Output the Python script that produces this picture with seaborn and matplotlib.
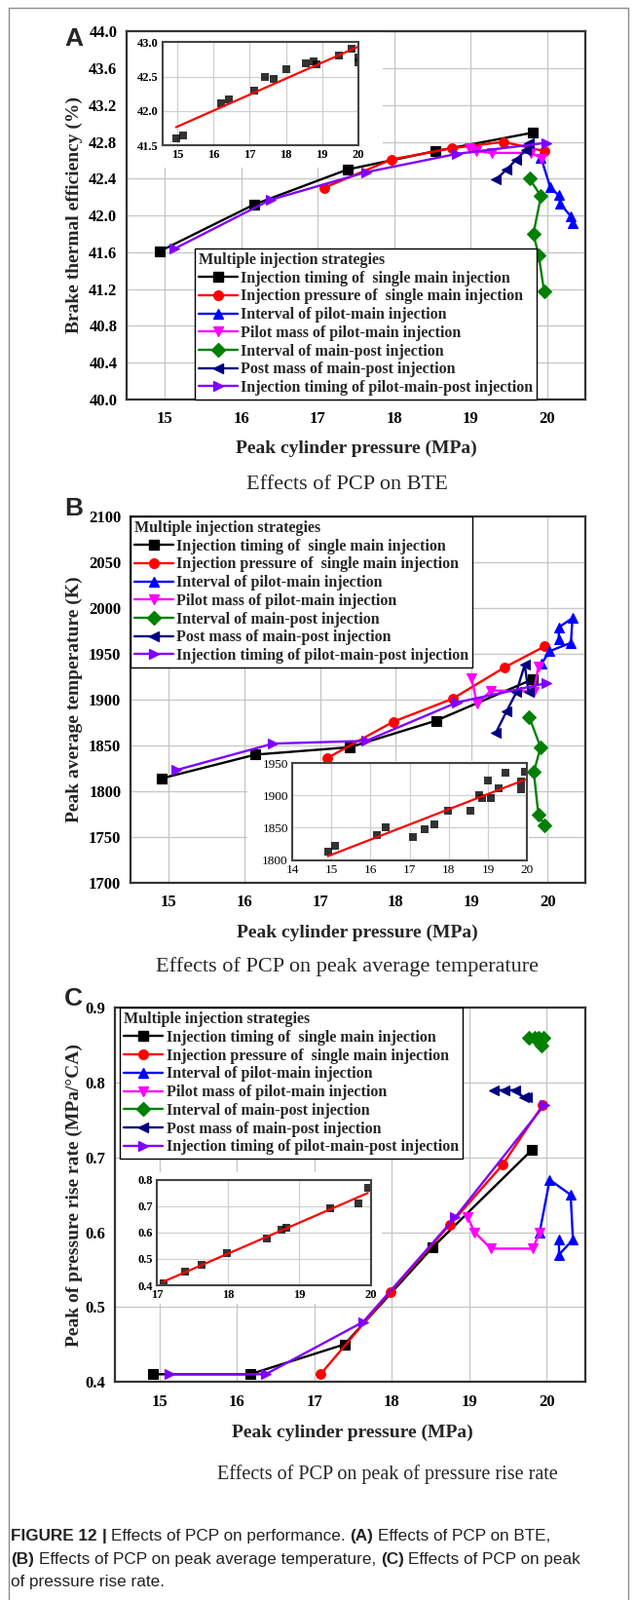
import numpy as np
import pandas as pd
import matplotlib
matplotlib.use("Agg")
import matplotlib.pyplot as plt
from matplotlib.lines import Line2D
from matplotlib.patches import Rectangle
import seaborn as sns

# ---------------- data ----------------
strategy_labels = [
    "Injection timing of  single main injection",
    "Injection pressure of  single main injection",
    "Interval of pilot-main injection",
    "Pilot mass of pilot-main injection",
    "Interval of main-post injection",
    "Post mass of main-post injection",
    "Injection timing of pilot-main-post injection",
]

# Panel A: brake thermal efficiency (%)
a_timing_x = [14.93, 16.17, 17.39, 18.54, 19.81]
a_timing_y = [41.61, 42.12, 42.50, 42.70, 42.90]
a_press_x = [17.08, 17.97, 18.75, 19.43, 19.96]
a_press_y = [42.30, 42.61, 42.73, 42.80, 42.70]
a_pmint_x = [19.92, 20.04, 20.15, 20.17, 20.31, 20.34]
a_pmint_y = [42.63, 42.31, 42.22, 42.13, 41.99, 41.92]
a_pmass_x = [18.99, 19.07, 19.28, 19.79, 19.93]
a_pmass_y = [42.73, 42.70, 42.68, 42.68, 42.62]
a_mpint_x = [19.77, 19.92, 19.82, 19.89, 19.96]
a_mpint_y = [42.40, 42.21, 41.80, 41.57, 41.18]
a_postm_x = [19.33, 19.47, 19.60, 19.72, 19.76]
a_postm_y = [42.39, 42.50, 42.61, 42.71, 42.79]
a_pmp_x = [15.13, 16.38, 17.63, 18.82, 19.99]
a_pmp_y = [41.64, 42.17, 42.47, 42.67, 42.79]

a_inset_x = [14.97, 15.16, 16.21, 16.42, 17.12, 17.43, 17.66, 18.00, 18.56,
             18.77, 18.85, 19.45, 19.82, 20.00, 20.00]
a_inset_y = [41.60, 41.64, 42.11, 42.17, 42.30, 42.50, 42.47, 42.61, 42.70,
             42.72, 42.68, 42.80, 42.91, 42.78, 42.71]

# Panel B: peak average temperature (K)
b_timing_x = [14.91, 16.15, 17.39, 18.53, 19.80]
b_timing_y = [1814, 1840, 1848, 1877, 1922]
b_press_x = [17.09, 17.97, 18.75, 19.43, 19.96]
b_press_y = [1836, 1876, 1901, 1935, 1958]
b_pmint_x = [19.92, 20.03, 20.31, 20.33, 20.15, 20.15]
b_pmint_y = [1939, 1953, 1962, 1989, 1979, 1966]
b_pmass_x = [19.00, 19.07, 19.26, 19.82, 19.88]
b_pmass_y = [1923, 1896, 1910, 1909, 1936]
b_mpint_x = [19.76, 19.91, 19.82, 19.88, 19.96]
b_mpint_y = [1881, 1848, 1821, 1775, 1763]
b_postm_x = [19.32, 19.46, 19.59, 19.70, 19.75]
b_postm_y = [1864, 1887, 1908, 1938, 1909]
b_pmp_x = [15.10, 16.38, 17.61, 18.81, 19.99]
b_pmp_y = [1823, 1852, 1855, 1897, 1918]

b_inset_x = [14.91, 15.10, 16.15, 16.39, 17.08, 17.39, 17.63, 17.98, 18.55,
             18.77, 18.84, 18.99, 19.08, 19.28, 19.44, 19.84, 19.84, 19.95]
b_inset_y = [1813, 1822, 1839, 1850, 1835, 1848, 1855, 1876, 1877,
             1901, 1896, 1923, 1896, 1911, 1935, 1921, 1910, 1936]

# Panel C: peak of pressure rise rate (MPa/°CA)
c_timing_x = [14.92, 16.17, 17.39, 18.53, 19.81]
c_timing_y = [0.41, 0.41, 0.45, 0.58, 0.71]
c_press_x = [17.08, 17.98, 18.75, 19.43, 19.95]
c_press_y = [0.41, 0.52, 0.61, 0.69, 0.77]
c_pmint_x = [19.91, 20.04, 20.31, 20.34, 20.16, 20.16]
c_pmint_y = [0.60, 0.67, 0.65, 0.59, 0.57, 0.59]
c_pmass_x = [18.98, 19.07, 19.28, 19.82, 19.91]
c_pmass_y = [0.62, 0.60, 0.578, 0.578, 0.60]
c_mpint_x = [19.77, 19.84, 19.90, 19.93, 19.96]
c_mpint_y = [0.86, 0.86, 0.86, 0.85, 0.86]
c_postm_x = [19.32, 19.45, 19.59, 19.71, 19.74]
c_postm_y = [0.79, 0.79, 0.79, 0.78, 0.78]
c_pmp_x = [15.13, 16.37, 17.63, 18.82, 19.97]
c_pmp_y = [0.41, 0.41, 0.48, 0.62, 0.77]

c_inset_x = [17.09, 17.40, 17.63, 17.98, 18.54, 18.75, 18.82, 19.43, 19.83, 19.96]
c_inset_y = [0.409, 0.451, 0.479, 0.521, 0.579, 0.610, 0.618, 0.690, 0.709, 0.770]

x_ticks = [15, 16, 17, 18, 19, 20]
a_yticks = [40.0, 40.4, 40.8, 41.2, 41.6, 42.0, 42.4, 42.8, 43.2, 43.6, 44.0]
b_yticks = [1700, 1750, 1800, 1850, 1900, 1950, 2000, 2050, 2100]
c_yticks = [0.4, 0.5, 0.6, 0.7, 0.8, 0.9]
a_inset_xticks = [15, 16, 17, 18, 19, 20]
a_inset_yticks = [41.5, 42.0, 42.5, 43.0]
b_inset_xticks = [14, 15, 16, 17, 18, 19, 20]
b_inset_yticks = [1800, 1850, 1900, 1950]
c_inset_xticks = [17, 18, 19, 20]
c_inset_yticks = [0.4, 0.5, 0.6, 0.7, 0.8]

# ---------------- styles ----------------
COLORS = ['#000000', '#ff0000', '#0000ff', '#ff00ff', '#008000', '#000080', '#8000ff']
MARKERS = ['s', 'o', '^', 'v', 'D', '<', '>']
SERIF = 'Liberation Serif'
SANS = 'Liberation Sans'

W, H = 652, 1642
sns.set_style("whitegrid")
plt.rcParams['font.family'] = [SERIF, 'DejaVu Serif']
fig = plt.figure(figsize=(W / 100, H / 100), dpi=100)
fig.patch.set_facecolor('white')


def rect(l, t, r, b):
    return [l / W, 1 - b / H, (r - l) / W, (b - t) / H]


def fy(py):
    return 1 - py / H


def style_axes(ax, lw=1.6, col='#333333'):
    for s in ax.spines.values():
        s.set_visible(True)
        s.set_color(col)
        s.set_linewidth(lw)


def main_panel(box, series, xlim, ylim, yticks, yfmt, patch_px, leg_loc, leg_anchor):
    ax = fig.add_axes(rect(*box))
    ax.set_facecolor('white')
    for (xs, ys), c, m, lab in zip(series, COLORS, MARKERS, strategy_labels):
        sns.lineplot(x=xs, y=ys, sort=False, estimator=None, ax=ax, color=c,
                     marker=m, markersize=7, markeredgecolor=c, markeredgewidth=0.8,
                     linewidth=1.7, legend=False)
    ax.set_xlim(*xlim)
    ax.set_ylim(*ylim)
    ax.set_xticks(x_ticks)
    ax.set_xticklabels([str(v) for v in x_ticks], fontweight='bold', fontsize=12)
    ax.set_yticks(yticks)
    ax.set_yticklabels([yfmt.format(v) for v in yticks], fontweight='bold', fontsize=12)
    ax.tick_params(axis='x', length=0, pad=9, colors='black')
    ax.tick_params(axis='y', length=0, pad=7, colors='black')
    ax.grid(True, color='#c8c8c8', linewidth=1.0)
    ax.set_axisbelow(True)
    ax.set_xlabel('')
    ax.set_ylabel('')
    style_axes(ax)
    # white area behind the inset and its tick labels
    l, t, r, b = patch_px
    ax.add_patch(Rectangle((l / W, 1 - b / H), (r - l) / W, (b - t) / H,
                           transform=fig.transFigure, facecolor='white',
                           edgecolor='none', zorder=1))
    handles = [Line2D([0], [0], color=c, marker=m, lw=1.7, markersize=7,
                      markeredgecolor=c) for c, m in zip(COLORS, MARKERS)]
    leg = ax.legend(handles, strategy_labels, title="Multiple injection strategies",
                    loc=leg_loc, bbox_to_anchor=leg_anchor, borderaxespad=0,
                    frameon=True, fancybox=False, edgecolor='black', framealpha=1,
                    prop=dict(family=SERIF, weight='bold', size=11.5),
                    title_fontproperties=dict(family=SERIF, weight='bold', size=11.5),
                    handlelength=2.5, handletextpad=0.2, labelspacing=0.17,
                    borderpad=0.25, alignment='left', numpoints=1)
    leg.get_frame().set_linewidth(1.0)
    leg.set_zorder(6)
    return ax


def inset_panel(box, xs, ys, xlim, ylim, xticks, yticks, yfmt, weight, size):
    ax = fig.add_axes(rect(*box))
    ax.set_facecolor('white')
    sns.regplot(x=xs, y=ys, ax=ax, ci=None, marker='s', truncate=True,
                scatter_kws=dict(color='black', s=26, linewidths=0),
                line_kws=dict(color='red', lw=1.6))
    ax.set_xlim(*xlim)
    ax.set_ylim(*ylim)
    ax.set_xticks(xticks)
    ax.set_xticklabels([str(v) for v in xticks], fontweight=weight, fontsize=size)
    ax.set_yticks(yticks)
    ax.set_yticklabels([yfmt.format(v) for v in yticks], fontweight=weight, fontsize=size)
    ax.tick_params(length=0, pad=3, colors='black')
    ax.grid(True, color='#d0d0d0', linewidth=0.9)
    ax.set_axisbelow(True)
    ax.set_xlabel('')
    ax.set_ylabel('')
    style_axes(ax, lw=1.5, col='#444444')
    return ax


# ---------------- panel A ----------------
main_panel((130, 32.3, 601, 410),
           [(a_timing_x, a_timing_y), (a_press_x, a_press_y), (a_pmint_x, a_pmint_y),
            (a_pmass_x, a_pmass_y), (a_mpint_x, a_mpint_y), (a_postm_x, a_postm_y),
            (a_pmp_x, a_pmp_y)],
           (14.5, 20.5), (40.0, 44.0), a_yticks, "{:.1f}",
           (131, 33, 393, 172), 'lower left', (0.148, 0.0))
inset_panel((167, 43.3, 368, 149.3), a_inset_x, a_inset_y, (14.6, 20.0), (41.5, 43.0),
            a_inset_xticks, a_inset_yticks, "{:.1f}", 'bold', 9)

# ---------------- panel B ----------------
main_panel((134, 530, 601, 906),
           [(b_timing_x, b_timing_y), (b_press_x, b_press_y), (b_pmint_x, b_pmint_y),
            (b_pmass_x, b_pmass_y), (b_mpint_x, b_mpint_y), (b_postm_x, b_postm_y),
            (b_pmp_x, b_pmp_y)],
           (14.5, 20.5), (1700, 2100), b_yticks, "{:d}",
           (254, 781, 543, 905), 'upper left', (0.0, 1.0))
inset_panel((300, 783, 541.4, 882.7), b_inset_x, b_inset_y, (14, 20), (1800, 1950),
            b_inset_xticks, b_inset_yticks, "{:d}", 'normal', 9.5)

# ---------------- panel C ----------------
main_panel((117.7, 1034.3, 601, 1418),
           [(c_timing_x, c_timing_y), (c_press_x, c_press_y), (c_pmint_x, c_pmint_y),
            (c_pmass_x, c_pmass_y), (c_mpint_x, c_mpint_y), (c_postm_x, c_postm_y),
            (c_pmp_x, c_pmp_y)],
           (14.42, 20.5), (0.4, 0.9), c_yticks, "{:.1f}",
           (119, 1203, 392, 1338), 'upper left', (0.012, 1.0))
inset_panel((161, 1210.7, 380.5, 1319), c_inset_x, c_inset_y, (17, 20), (0.4, 0.8),
            c_inset_xticks, c_inset_yticks, "{:.1f}", 'bold', 9)

# ---------------- texts ----------------
for letter, yb in (("A", 47), ("B", 529), ("C", 1032)):
    fig.text(66 / W, fy(yb), letter, family=SANS, weight='bold', fontsize=19,
             ha='left', va='baseline')

ylabels = [("Brake thermal efficiency (%)", 221), ("Peak average temperature (K)", 718),
           ("Peak of pressure rise rate (MPa/\u00b0CA)", 1226)]
for txt, yc in ylabels:
    fig.text(76 / W, fy(yc), txt, family=SERIF, weight='bold', fontsize=14,
             rotation=90, ha='center', va='center')

for xc, yc in ((365.5, 460), (367, 957), (362, 1470)):
    fig.text(xc / W, fy(yc), "Peak cylinder pressure (MPa)", family=SERIF,
             weight='bold', fontsize=14, ha='center', va='center')

subs = [("Effects of PCP on BTE", 356, 497, 16),
        ("Effects of PCP on peak average temperature", 356, 992, 16),
        ("Effects of PCP on peak of pressure rise rate", 398, 1513, 14.5)]
for txt, xc, yc, fs in subs:
    fig.text(xc / W, fy(yc), txt, family=SERIF, fontsize=fs, ha='center', va='center')

# caption with mixed weights
renderer = fig.canvas.get_renderer()
CAP_FS = 12.3


def text_width(s, weight):
    t = fig.text(0, 0, s, family=SANS, weight=weight, fontsize=CAP_FS)
    w = t.get_window_extent(renderer=renderer).width
    t.remove()
    return w


space_w = text_width("a a", 'normal') - text_width("aa", 'normal')


def rich_line(x_px, y_px, words):
    x = x_px
    for s, bold in words:
        wgt = 'bold' if bold else 'normal'
        fig.text(x / W, fy(y_px), s, family=SANS, weight=wgt, fontsize=CAP_FS,
                 ha='left', va='baseline', color='#222222')
        x += text_width(s, wgt) + space_w


cap_lines = [
    [("FIGURE 12", True), ("|", True), ("Effects of PCP on performance.", False),
     ("(A)", True), ("Effects of PCP on BTE,", False)],
    [("(B)", True), ("Effects of PCP on peak average temperature,", False),
     ("(C)", True), ("Effects of PCP on peak", False)],
    [("of pressure rise rate.", False)],
]
for line, yb in zip(cap_lines, (1581, 1605, 1628)):
    rich_line(11, yb, line)

# outer frame lines
frame_col = '#8a8a8a'
fig.add_artist(Line2D([9 / W, 9 / W], [fy(8), 0], transform=fig.transFigure,
                      color=frame_col, lw=1.0))
fig.add_artist(Line2D([9 / W, 645 / W], [fy(8), fy(8)], transform=fig.transFigure,
                      color=frame_col, lw=1.0))
fig.add_artist(Line2D([645 / W, 645 / W], [fy(8), 0], transform=fig.transFigure,
                      color=frame_col, lw=1.0))

fig.savefig("out.png", dpi=100, facecolor='white')
